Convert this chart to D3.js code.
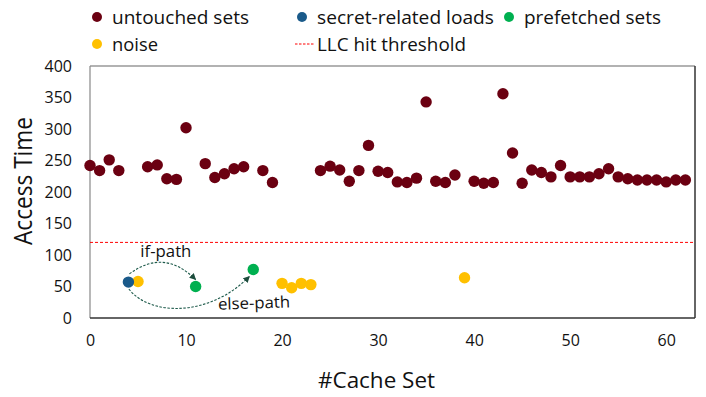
<!DOCTYPE html>
<html>
<head>
<meta charset="utf-8">
<script src="https://cdn.jsdelivr.net/npm/d3@7"></script>
<style>
  body { margin: 0; background: #fff; }
  text { font-family: "Open Sans", sans-serif; fill: #111; }
</style>
</head>
<body>
<svg id="chart" width="706" height="397"></svg>
<script>
// cache set index -> access time (cycles)
var untouchedSets = [0,1,2,3,6,7,8,9,10,12,13,14,15,16,18,19,24,25,26,27,28,29,30,31,32,33,34,35,36,37,38,40,41,42,43,44,45,46,47,48,49,50,51,52,53,54,55,56,57,58,59,60,61,62];
var untouchedTimes = [242,234,251,234,240,243,221,220,302,245,223,229,237,240,234,215,234,241,235,217,234,274,233,231,216,215,222,343,217,215,227,217,214,215,356,262,214,235,231,224,242,224,224,224,229,237,224,221,219,219,219,216,219,219];
var secretSets = [4];
var secretTimes = [57];
var prefetchSets = [11,17];
var prefetchTimes = [50,77];
var noiseSets = [5,20,21,22,23,39];
var noiseTimes = [58,55,48,55,53,64];
var threshold = 120;

var xTicks = [0,10,20,30,40,50,60];
var yTicks = [0,50,100,150,200,250,300,350,400];

var legendItems = [
  {label:"untouched sets", color:"#6b0011", kind:"dot", x:97, row:0, w:137},
  {label:"secret-related loads", color:"#1a5a8a", kind:"dot", x:302, row:0, w:177},
  {label:"prefetched sets", color:"#00b050", kind:"dot", x:509, row:0, w:137},
  {label:"noise", color:"#ffc000", kind:"dot", x:97, row:1, w:46},
  {label:"LLC hit threshold", color:"#ff0000", kind:"line", x:305, row:1, w:149}
];

var margin = {top:66, right:11, bottom:79, left:90};
var W = 706, H = 397;
var svg = d3.select("#chart");
var x = d3.scaleLinear().domain([0,63]).range([margin.left, W-margin.right]);
var y = d3.scaleLinear().domain([0,400]).range([H-margin.bottom, margin.top]);

// frame
var L = margin.left, R = W-margin.right, T = margin.top, B = H-margin.bottom;
svg.append("line").attr("x1",L).attr("x2",R).attr("y1",T).attr("y2",T).attr("stroke","#999").attr("stroke-width",1.5);
svg.append("line").attr("x1",L).attr("x2",L).attr("y1",T).attr("y2",B).attr("stroke","#888").attr("stroke-width",1.2);
svg.append("line").attr("x1",R).attr("x2",R).attr("y1",T).attr("y2",B).attr("stroke","#333").attr("stroke-width",1.5);
svg.append("line").attr("x1",L).attr("x2",R).attr("y1",B).attr("y2",B).attr("stroke","#333").attr("stroke-width",1.5);

// axes (labels only)
var yAxis = svg.append("g").attr("transform","translate("+L+",0)")
  .call(d3.axisLeft(y).tickValues(yTicks).tickSize(0).tickPadding(18));
var xAxis = svg.append("g").attr("transform","translate(0,"+B+")")
  .call(d3.axisBottom(x).tickValues(xTicks).tickSize(0).tickPadding(17));
[yAxis, xAxis].forEach(function(a){
  a.select(".domain").remove();
  a.selectAll("text").style("font-family","'Open Sans', sans-serif").style("font-size","16px").attr("fill","#111");
});

svg.append("text").attr("transform","translate(32,181) rotate(-90)")
  .attr("text-anchor","middle").style("font-size","25px")
  .attr("textLength",128).attr("lengthAdjust","spacingAndGlyphs").text("Access Time");
svg.append("text").attr("x",376.5).attr("y",388)
  .attr("text-anchor","middle").style("font-size","22px")
  .attr("textLength",117).attr("lengthAdjust","spacingAndGlyphs").text("#Cache Set");

// threshold
svg.append("line").attr("x1",L).attr("x2",R).attr("y1",y(threshold)).attr("y2",y(threshold))
  .attr("stroke","#ff0000").attr("stroke-width",1).attr("stroke-dasharray","3,2");

// arrows
var defs = svg.append("defs");
defs.append("marker").attr("id","arr").attr("viewBox","0 0 10 10").attr("refX",9).attr("refY",5)
  .attr("markerWidth",6).attr("markerHeight",6).attr("orient","auto")
  .append("path").attr("d","M0,0 L10,5 L0,10 z").attr("fill","#1d4d3d");

var ifPath = [[4.1,70],[7.7,111],[11.0,61]];
var elsePath = [[4.05,46],[6.3,2],[12.5,2],[16.6,66]];
var p1 = d3.path();
p1.moveTo(x(ifPath[0][0]),y(ifPath[0][1]));
p1.quadraticCurveTo(x(ifPath[1][0]),y(ifPath[1][1]),x(ifPath[2][0]),y(ifPath[2][1]));
var p2 = d3.path();
p2.moveTo(x(elsePath[0][0]),y(elsePath[0][1]));
p2.bezierCurveTo(x(elsePath[1][0]),y(elsePath[1][1]),x(elsePath[2][0]),y(elsePath[2][1]),x(elsePath[3][0]),y(elsePath[3][1]));
[p1,p2].forEach(function(p){
  svg.append("path").attr("d",p.toString()).attr("fill","none").attr("stroke","#1d5a4a")
    .attr("stroke-width",1.1).attr("stroke-dasharray","2.5,1.5").attr("marker-end","url(#arr)");
});
svg.append("text").attr("x",x(7.9)).attr("y",y(97)).attr("text-anchor","middle").style("font-size","16px")
  .attr("textLength",51).attr("lengthAdjust","spacingAndGlyphs").text("if-path");
svg.append("text").attr("transform","translate("+x(17.1)+","+y(15)+") rotate(-2)").attr("text-anchor","middle").style("font-size","16px")
  .attr("textLength",72).attr("lengthAdjust","spacingAndGlyphs").text("else-path");

// points
function dots(sets, times, color){
  svg.append("g").selectAll("circle").data(sets).enter().append("circle")
    .attr("cx",function(d){return x(d);})
    .attr("cy",function(d,i){return y(times[i]);})
    .attr("r",5.7).attr("fill",color);
}
dots(untouchedSets, untouchedTimes, "#6b0011");
dots(noiseSets, noiseTimes, "#ffc000");
dots(prefetchSets, prefetchTimes, "#00b050");
dots(secretSets, secretTimes, "#1a5a8a");

// legend
var lg = svg.append("g");
legendItems.forEach(function(d){
  var cy = d.row==0 ? 17 : 44;
  if (d.kind=="dot") {
    lg.append("circle").attr("cx",d.x).attr("cy",cy).attr("r",5).attr("fill",d.color);
  } else {
    lg.append("line").attr("x1",d.x-10).attr("x2",d.x+10).attr("y1",cy).attr("y2",cy)
      .attr("stroke",d.color).attr("stroke-width",1).attr("stroke-dasharray","2.5,1.5");
  }
  lg.append("text").attr("x",d.x+ (d.kind=="dot"?15:12)).attr("y",cy).attr("dy","0.36em")
    .style("font-size","19px").attr("textLength",d.w).attr("lengthAdjust","spacingAndGlyphs").text(d.label);
});
</script>
</body>
</html>
